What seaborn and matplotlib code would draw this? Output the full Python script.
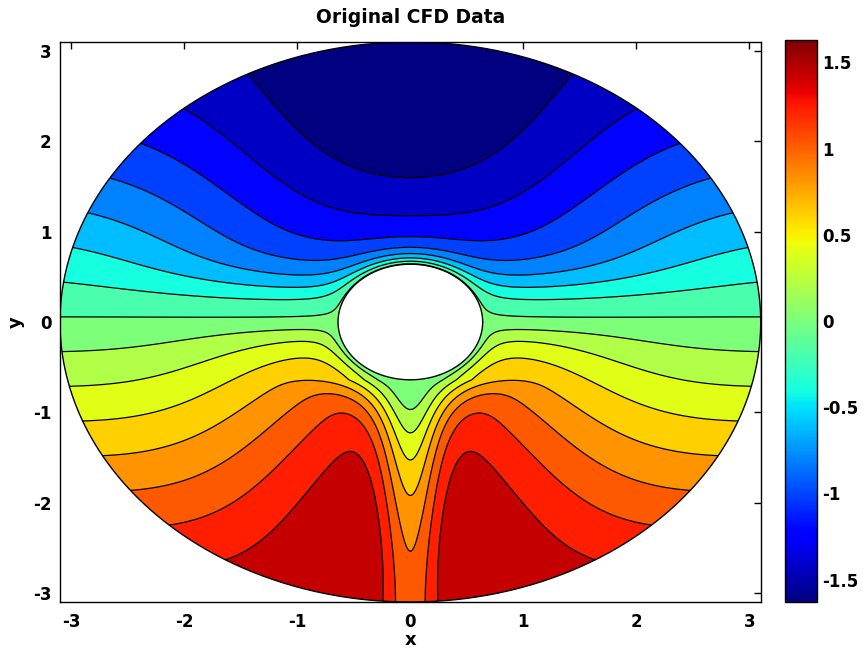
import numpy as np
import matplotlib
matplotlib.use("Agg")
import matplotlib.pyplot as plt
import seaborn as sns
from matplotlib.colors import Normalize
from matplotlib.cm import ScalarMappable

# ---- domain: circular far-field boundary with a cylinder at the centre ----
outer_radius = 3.1
cylinder_radius = 0.64

# ---- flow-field model coefficients ----
free_stream = 0.554          # uniform stream strength
stream_offset = 0.03         # constant shift of the field
upper_strength = 0.84        # acceleration region above the cylinder
upper_width = 2.4
lower_strength = 0.9         # raised lobes below the cylinder
lower_width = 1.7
lobe_boost = 0.68            # extra lobe strength close to the cylinder
wake_depth = [1.2, 0.2]      # wake deficit: depth at cylinder, decay per unit depth
wake_width = [0.26, 0.33]    # wake half width: far value, extra near the cylinder
wall_layer = 0.1             # thickness of the layer at the cylinder wall

# ---- colour levels and ticks ----
value_min, value_max = -1.63, 1.63
n_levels = 17
cbar_ticks = [-1.5, -1, -0.5, 0, 0.5, 1, 1.5]
cbar_labels = ["-1.5", "-1", "-0.5", "0", "0.5", "1", "1.5"]
axis_ticks = [-3, -2, -1, 0, 1, 2, 3]
axis_labels = ["-3", "-2", "-1", "0", "1", "2", "3"]

sns.set_style("white")
plt.rcParams["font.family"] = ["DejaVu Sans"]
plt.rcParams["font.weight"] = "bold"
plt.rcParams["axes.unicode_minus"] = False
for key in ["text.color", "axes.labelcolor", "xtick.color", "ytick.color"]:
    plt.rcParams[key] = "black"

# polar mesh of the annular domain
r = np.linspace(cylinder_radius, outer_radius, 320)
theta = np.linspace(0, 2 * np.pi, 901)
RR, TT = np.meshgrid(r, theta)
X = RR * np.cos(TT)
Y = RR * np.sin(TT)

a, R = cylinder_radius, outer_radius
base = -free_stream * Y * (1 - a**2 / RR**2) + stream_offset
ramp = 1 - np.exp(-(RR - a) / wall_layer)
taper = 1 - ((RR - a) / (R - a)) ** 2

s_top = np.where(Y > 0, 1 - np.exp(-(np.clip(Y, 0, None) / 0.5) ** 2), 0.0)
s_bot = np.where(Y < 0, 1 - np.exp(np.clip(Y, None, 0) / 0.3), 0.0)
s_wake = np.where(Y < 0, 1 - np.exp(-(np.clip(-Y, 0, None) / 0.5) ** 2), 0.0)
below = np.clip(-np.sin(TT), 0, None) ** 2
off_axis = 1 - np.exp(-(X / 0.4) ** 2)

upper = -upper_strength * np.exp(-(X / upper_width) ** 2) * s_top * taper * ramp
boost = 1 + lobe_boost * np.exp(-(RR - a) / 0.5) * below * off_axis
lower = lower_strength * np.exp(-(X / lower_width) ** 2) * s_bot * taper * ramp * boost
depth = -Y
sig = wake_width[0] + wake_width[1] * np.exp(-np.clip(depth - a, 0, None) / 0.25)
wake = (wake_depth[0] - wake_depth[1] * depth) * np.exp(-(X / sig) ** 2) * s_wake * ramp

field = base + upper + lower - wake
field = np.clip(field, value_min + 1e-6, value_max - 1e-6)

levels = np.linspace(value_min, value_max, n_levels)
cmap = matplotlib.colormaps["jet"]
norm = Normalize(value_min, value_max)
band_colors = [cmap(norm(v)) for v in levels[:-1]]

fig = plt.figure(figsize=(8.65, 6.5), dpi=100)
ax = fig.add_axes([60 / 865, 1 - 602 / 650, 700.7 / 865, 560 / 650])
cax = fig.add_axes([785 / 865, 1 - 602 / 650, 32 / 865, 562 / 650])

ax.contourf(X, Y, field, levels=levels, colors=band_colors, antialiased=True)
ax.contour(X, Y, field, levels=levels[1:-1], colors="k", linewidths=0.9,
           linestyles="solid")

circ = np.linspace(0, 2 * np.pi, 800)
ax.plot(R * np.cos(circ), R * np.sin(circ), color="k", lw=1.0)
ax.plot(a * np.cos(circ), a * np.sin(circ), color="k", lw=1.0)

ax.set_xlim(-R, R)
ax.set_ylim(-R, R)
ax.set_xticks(axis_ticks)
ax.set_xticklabels(axis_labels)
ax.set_yticks(axis_ticks)
ax.set_yticklabels(axis_labels)
ax.tick_params(direction="in", top=True, right=True, length=5, width=1,
               labelsize=12)
ax.tick_params(axis="x", pad=8)
ax.tick_params(axis="y", pad=6)
for lab in ax.get_xticklabels() + ax.get_yticklabels():
    lab.set_fontweight("bold")
for sp in ax.spines.values():
    sp.set_color("k")
    sp.set_linewidth(1.0)
ax.set_xlabel("x", fontsize=13, fontweight="bold", labelpad=0)
ax.set_ylabel("y", fontsize=13, fontweight="bold", labelpad=6)
ax.set_title("Original CFD Data", fontsize=13.5, fontweight="bold", pad=14)

sm = ScalarMappable(norm=norm, cmap=cmap)
cb = fig.colorbar(sm, cax=cax, ticks=cbar_ticks)
cb.ax.set_yticklabels(cbar_labels)
cb.ax.tick_params(direction="in", left=True, right=True, length=5, width=1,
                  labelsize=12, pad=4)
for lab in cb.ax.get_yticklabels():
    lab.set_fontweight("bold")
cb.outline.set_edgecolor("k")
cb.outline.set_linewidth(1.0)

fig.savefig("out.png", dpi=100)
